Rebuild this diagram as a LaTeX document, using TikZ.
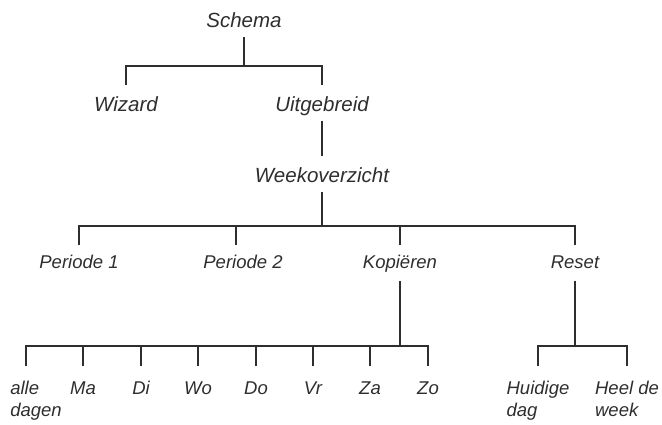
\documentclass[tikz,border=0pt]{standalone}
\usepackage{fontspec}
\setmainfont{Liberation Sans}
\usetikzlibrary{positioning,calc}

\begin{document}
\begin{tikzpicture}[x=1pt, y=-1pt, line width=1.9pt, color=black!82,
    big/.style={font=\fontsize{20.5}{25}\selectfont\itshape, anchor=base, inner xsep=0pt, inner ysep=3.5pt, text height=21.5pt, text depth=5.5pt},
    small/.style={font=\fontsize{18.5}{22}\selectfont\itshape, anchor=base, inner xsep=0pt, inner ysep=3pt, text height=19pt, text depth=9pt},
    leaf/.style={font=\fontsize{18.5}{22}\selectfont\itshape, align=left, anchor=north, inner xsep=0pt, inner ysep=14pt, execute at begin node={\rule{0pt}{14pt}}}]
    \useasboundingbox (0,0) rectangle (662,424);

    % Top
    \node[big] (schema) at (244,27) {Schema};
    \node[big] (wizard) at (126,111) {Wizard};
    \node[big] (uitg) at (322,111) {Uitgebreid};
    \node[big] (week) at (322,182) {Weekoverzicht};
    \coordinate (b0) at (244,66);
    \draw (schema.south) -- (b0);
    \draw (wizard.north) |- (b0) -| (uitg.north);
    \draw (uitg.south) -- (week.north);

    % Weekoverzicht
    \node[small] (p1) at (79,268) {Periode 1};
    \node[small] (p2) at (243,268) {Periode 2};
    \node[small] (kop) at (400,268) {Kopiëren};
    \node[small] (reset) at (575,268) {Reset};
    \coordinate (b1) at (322,226);
    \draw (week.south) -- (b1);
    \draw (p1.north) |- (b1) -| (reset.north);
    \draw ([xshift=-7pt]p2.north) -- ([xshift=-7pt]p2.north |- b1);
    \draw (kop.north) -- (kop.north |- b1);

    % Kopieren
    \coordinate (b2) at (400,346);
    \node[leaf, xshift=10pt] (alle) at (26,366) {alle\\dagen};
    \foreach \x/\n/\lbl in {83/ma/Ma, 141/di/Di, 198/wo/Wo, 256/do/Do, 313/vr/Vr, 370/za/Za, 428/zo/Zo}
        \node[leaf] (\n) at (\x,366) {\lbl};
    \draw (kop.south) -- (b2);
    \draw ([xshift=-10pt]alle.north) |- (b2) -| (zo.north);
    \foreach \n in {ma,di,wo,do,vr,za}
        \draw (\n.north) -- (\n.north |- b2);

    % Reset
    \coordinate (b3) at (575,346);
    \node[leaf] (huidig) at (538,366) {Huidige\\dag};
    \node[leaf] (heel) at (627,366) {Heel de\\week};
    \draw (reset.south) -- (b3);
    \draw (huidig.north) |- (b3) -| (heel.north);
\end{tikzpicture}
\end{document}
